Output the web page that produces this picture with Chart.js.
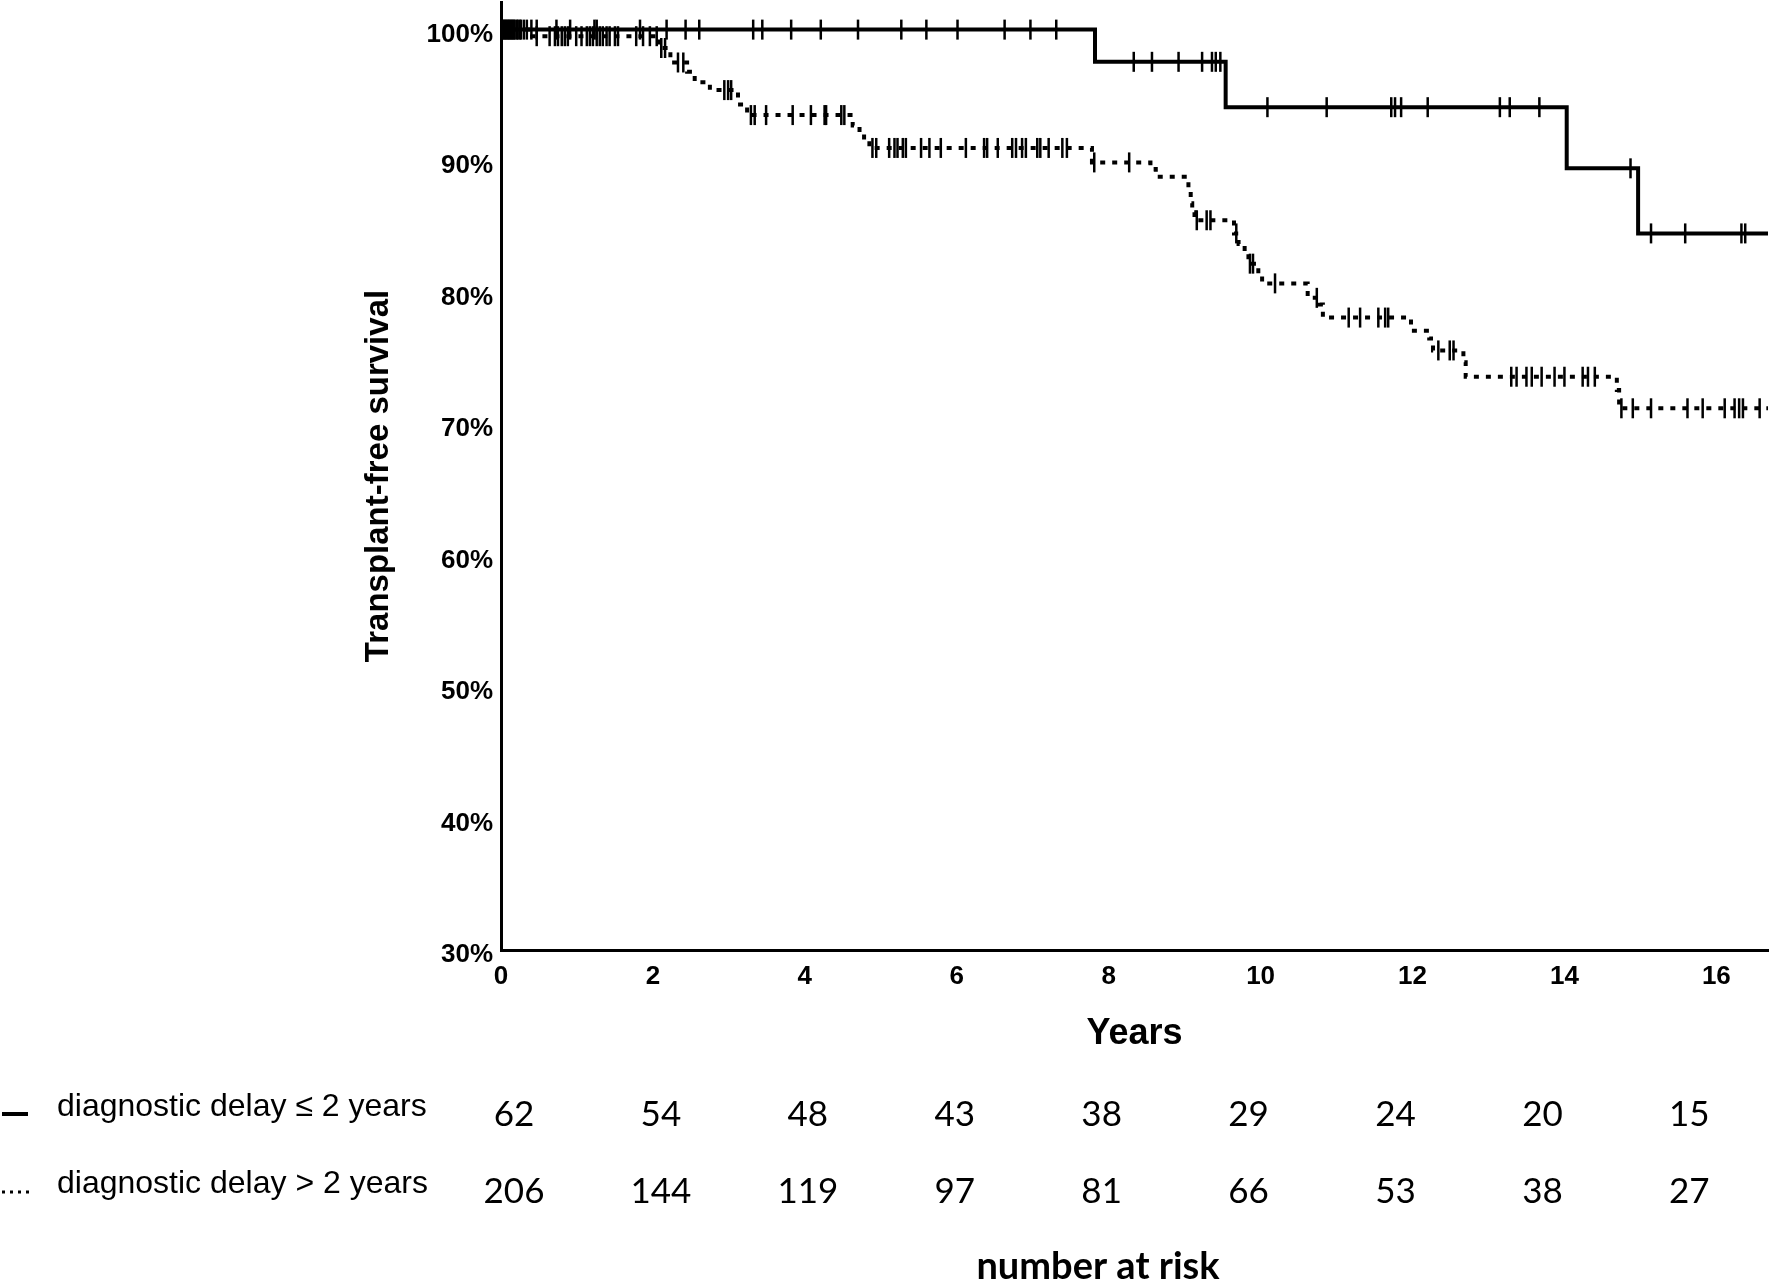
<!DOCTYPE html>
<html lang="en">
<head>
<meta charset="UTF-8">
<title>Transplant-free survival</title>
<style>
  body { margin: 0; background: #fff; }
  #wrap { width: 1770px; height: 1282px; }
</style>
<script src="https://cdn.jsdelivr.net/npm/chart.js"></script>
</head>
<body>
<div id="wrap"><canvas id="km" width="1770" height="1282"></canvas></div>
<script>
// Kaplan-Meier steps: time of drop (years) and survival (%) after it
const shortTimes = [0, 7.82, 9.54, 14.03, 14.97];
const shortSurv = [100, 97.55, 94.1, 89.45, 84.5];
const longTimes = [0, 0.41, 2.08, 2.23, 2.45, 2.55, 2.75, 3.12, 3.24, 4.63, 4.72, 4.78, 4.85,
  7.78, 8.55, 8.62, 9.05, 9.08, 9.10, 9.13, 9.65, 9.71, 9.79, 9.84, 9.97, 10.02, 10.62,
  10.78, 10.82, 11.98, 12.22, 12.27, 12.67, 12.70, 14.69, 14.72];
const longSurv = [100, 99.5, 98.6, 97.5, 96.8, 96.0, 95.4, 94.3, 93.5, 92.7, 92.2, 91.6, 91.0,
  89.9, 89.4, 88.8, 87.8, 86.8, 86.1, 85.5, 84.5, 83.7, 83.0, 82.2, 81.3, 80.7, 79.6,
  79.1, 78.1, 77.1, 76.5, 75.6, 74.7, 73.6, 72.6, 71.2];

// censoring times (years)
const shortCensored = [0.02, 0.05, 0.08, 0.11, 0.14, 0.17, 0.21, 0.25, 0.34, 0.40, 0.47, 0.73,
  0.91, 1.23, 1.26, 1.83, 2.18, 2.43, 2.61, 3.32, 3.44, 3.82, 4.21, 4.70, 5.27, 5.60, 6.01,
  6.63, 6.97, 7.31, 8.33, 8.57, 8.92, 9.23, 9.36, 9.41, 9.47, 10.09, 10.87, 11.72, 11.77,
  11.85, 12.20, 13.15, 13.28, 13.67, 14.87, 15.14, 15.59, 16.33, 16.38];
const longCensored = [0.03, 0.06, 0.09, 0.12, 0.15, 0.18, 0.22, 0.26, 0.30, 0.47, 0.64, 0.71,
  0.75, 0.80, 0.84, 0.88, 0.99, 1.06, 1.13, 1.17, 1.21, 1.26, 1.30, 1.34, 1.39, 1.43, 1.50,
  1.54, 1.78, 1.87, 1.96, 2.05, 2.11, 2.16, 2.33, 2.40, 2.94, 2.99, 3.03, 3.29, 3.34, 3.49,
  3.84, 4.08, 4.26, 4.28, 4.48, 4.52, 4.89, 4.94, 5.11, 5.18, 5.22, 5.29, 5.33, 5.53, 5.64,
  5.79, 6.12, 6.36, 6.40, 6.54, 6.73, 6.78, 6.86, 6.91, 7.06, 7.10, 7.21, 7.39, 7.45, 7.81,
  8.27, 9.16, 9.29, 9.34, 9.68, 9.86, 9.90, 10.19, 10.74, 11.16, 11.31, 11.55, 11.64, 11.68,
  12.34, 12.49, 12.54, 13.30, 13.37, 13.50, 13.57, 13.70, 13.87, 14.00, 14.24, 14.31, 14.40,
  14.75, 14.90, 15.14, 15.62, 15.82, 16.11, 16.24, 16.30, 16.35, 16.57];

const xTicks = [0, 2, 4, 6, 8, 10, 12, 14, 16];
const yTicks = [30, 40, 50, 60, 70, 80, 90, 100];
const xMax = 16.68;

// number at risk table
const groupLabels = ['diagnostic delay \u2264 2 years', 'diagnostic delay > 2 years'];
const riskTimes = [0, 2, 4, 6, 8, 10, 12, 14, 16];
const riskShort = [62, 54, 48, 43, 38, 29, 24, 20, 15];
const riskLong = [206, 144, 119, 97, 81, 66, 53, 38, 27];

function stepPoints(times, surv) {
  const pts = times.map((t, i) => ({ x: t, y: surv[i] }));
  pts.push({ x: xMax, y: surv[surv.length - 1] });
  return pts;
}

function survAt(times, surv, t) {
  let v = surv[0];
  times.forEach((s, i) => { if (s <= t) v = surv[i]; });
  return v;
}

function censorPoints(cens, times, surv) {
  return cens.map(t => ({ x: t, y: survAt(times, surv, t) }));
}

const riskTable = {
  id: 'riskTable',
  afterDraw(chart) {
    const ctx = chart.ctx;
    const xs = chart.scales.x;
    const n = riskTimes.length;
    // columns sit a little inside the first/last tick in the original figure
    const first = xs.getPixelForValue(riskTimes[0]) + 13;
    const last = xs.getPixelForValue(riskTimes[n - 1]) - 27;
    const span = riskTimes[n - 1] - riskTimes[0];
    ctx.save();
    ctx.fillStyle = '#000';
    ctx.strokeStyle = '#000';

    ctx.font = '32px "Liberation Sans", Arial, sans-serif';
    ctx.textAlign = 'left';
    ctx.textBaseline = 'alphabetic';
    ctx.fillText(groupLabels[0], 57, 1116);
    ctx.fillText(groupLabels[1], 57, 1193);

    ctx.lineWidth = 4;
    ctx.beginPath(); ctx.moveTo(2, 1114); ctx.lineTo(28, 1114); ctx.stroke();
    ctx.lineWidth = 3;
    ctx.setLineDash([3, 5]);
    ctx.beginPath(); ctx.moveTo(2, 1192); ctx.lineTo(30, 1192); ctx.stroke();
    ctx.setLineDash([]);

    ctx.font = '35px Lato, sans-serif';
    ctx.textAlign = 'center';
    riskTimes.forEach((t, i) => {
      const x = first + (last - first) * (t - riskTimes[0]) / span;
      ctx.fillText(String(riskShort[i]), x, 1126);
      ctx.fillText(String(riskLong[i]), x, 1203);
    });

    ctx.font = 'bold 38px Lato, sans-serif';
    ctx.fillText('number at risk', 1098, 1279);
    ctx.restore();
  }
};

Chart.defaults.font.family = '"Liberation Sans", Arial, sans-serif';
Chart.defaults.color = '#000';

new Chart(document.getElementById('km'), {
  type: 'line',
  data: {
    datasets: [
      {
        label: groupLabels[0],
        data: stepPoints(shortTimes, shortSurv),
        stepped: true,
        borderColor: '#000',
        borderWidth: 4,
        pointRadius: 0
      },
      {
        label: groupLabels[1],
        data: stepPoints(longTimes, longSurv),
        stepped: true,
        borderColor: '#000',
        borderWidth: 4,
        borderDash: [5, 7],
        pointRadius: 0
      },
      {
        label: 'censored short',
        data: censorPoints(shortCensored, shortTimes, shortSurv),
        showLine: false,
        pointStyle: 'line',
        rotation: 90,
        pointRadius: 10,
        pointBorderWidth: 2.5,
        pointBorderColor: '#000'
      },
      {
        label: 'censored long',
        data: censorPoints(longCensored, longTimes, longSurv),
        showLine: false,
        pointStyle: 'line',
        rotation: 90,
        pointRadius: 10,
        pointBorderWidth: 2.5,
        pointBorderColor: '#000'
      }
    ]
  },
  options: {
    responsive: false,
    devicePixelRatio: 1,
    animation: false,
    layout: { autoPadding: false, padding: { left: 340, right: 2, top: 2, bottom: 200 } },
    plugins: {
      legend: { display: false },
      tooltip: { enabled: false }
    },
    scales: {
      x: {
        type: 'linear',
        min: 0,
        max: xMax,
        grid: { display: false, drawTicks: false },
        border: { display: true, color: '#000', width: 3 },
        afterBuildTicks: s => { s.ticks = xTicks.map(v => ({ value: v })); },
        afterFit: s => { s.height = 132; s.paddingLeft = 0; s.paddingRight = 0; },
        ticks: { color: '#000', font: { size: 26, weight: 'bold' }, padding: 11, maxRotation: 0 },
        title: {
          display: true,
          text: 'Years',
          color: '#000',
          font: { size: 36, weight: 'bold' },
          padding: { top: 0, bottom: 26 }
        }
      },
      y: {
        type: 'linear',
        min: 30,
        max: 102.1,
        grid: { display: false, drawTicks: false },
        border: { display: true, color: '#000', width: 3 },
        afterBuildTicks: s => { s.ticks = yTicks.map(v => ({ value: v })); },
        afterFit: s => { s.width = 161; s.paddingTop = 0; s.paddingBottom = 0; },
        ticks: {
          color: '#000',
          font: { size: 26, weight: 'bold' },
          padding: 8,
          labelOffset: 5,
          callback: v => v + '%'
        },
        title: {
          display: true,
          text: 'Transplant-free survival',
          color: '#000',
          font: { size: 33, weight: 'bold' },
          padding: { top: 19, bottom: 0 }
        }
      }
    }
  },
  plugins: [riskTable]
});
</script>
</body>
</html>
